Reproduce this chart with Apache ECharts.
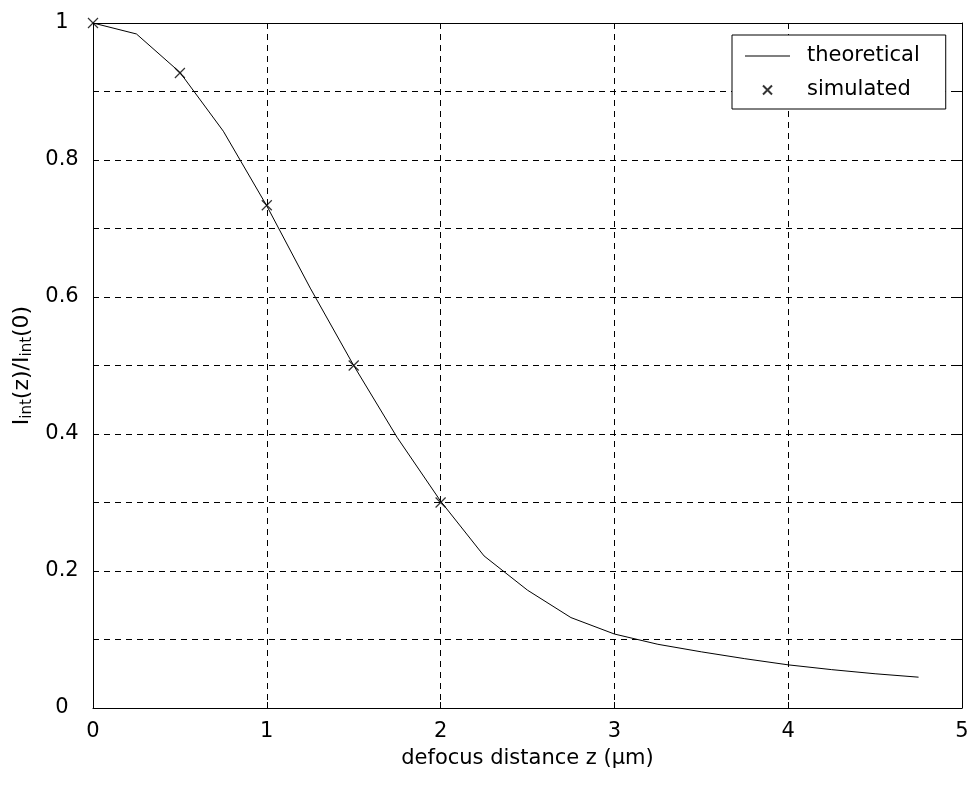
<!DOCTYPE html>
<html>
<head>
<meta charset="utf-8">
<script src="https://cdn.jsdelivr.net/npm/echarts@6/dist/echarts.min.js"></script>
<style>
  html, body { margin: 0; padding: 0; background: #fff; }
  #chart { width: 974px; height: 785px; }
</style>
</head>
<body>
<div id="chart"></div>
<script>
// theoretical curve
var zTheory = [0, 0.25, 0.5, 0.75, 1.0, 1.25, 1.5, 1.75, 2.0, 2.25, 2.5, 2.75, 3.0, 3.25, 3.5, 3.75, 4.0, 4.25, 4.5, 4.75];
var iTheory = [1.0, 0.984, 0.928, 0.842, 0.733, 0.613, 0.50, 0.395, 0.302, 0.222, 0.172, 0.132, 0.108, 0.093, 0.082, 0.072, 0.063, 0.056, 0.050, 0.045];
// simulated points
var zSim = [0, 0.5, 1.0, 1.5, 2.0];
var iSim = [1.0, 0.927, 0.734, 0.50, 0.30];

var FONT = 'DejaVu Sans';
var crossPath = 'path://M0,0L10,10M10,0L0,10';
var linePath = 'path://M0,0L45,0L45,1L0,1Z';

function pairs(xs, ys) {
  var out = [];
  for (var i = 0; i < xs.length; i++) out.push([xs[i], ys[i]]);
  return out;
}

var myChart = echarts.init(document.getElementById('chart'));

var tickStyle = { show: true, inside: true, length: 6, lineStyle: { color: '#000', width: 1 } };
var axisLineStyle = { show: true, onZero: false, lineStyle: { color: '#000', width: 1 } };
var gridDash = { show: true, lineStyle: { color: '#000', width: 1, type: [6, 5] } };

var option = {
  animation: false,
  backgroundColor: '#fff',
  grid: { left: 93, right: 12, top: 23, bottom: 77, containLabel: false, outerBoundsMode: 'none' },
  legend: {
    orient: 'vertical',
    left: 732,
    top: 35,
    padding: [10, 26, 8, 13],
    itemGap: 12,
    itemWidth: 45,
    itemHeight: 9,
    backgroundColor: '#fff',
    borderColor: '#000',
    borderWidth: 1,
    borderRadius: 0,
    textStyle: { fontFamily: FONT, fontSize: 21, color: '#000', padding: [0, 0, 0, 12], lineHeight: 22 },
    data: [
      { name: 'theoretical', icon: linePath, itemStyle: { color: '#000', borderWidth: 0 } },
      { name: 'simulated', icon: crossPath }
    ]
  },
  xAxis: [
    {
      type: 'value', min: 0, max: 5, interval: 1,
      name: 'defocus distance z (μm)', nameLocation: 'middle', nameGap: 40,
      nameTextStyle: { fontFamily: FONT, fontSize: 21, color: '#000' },
      axisLine: axisLineStyle, axisTick: tickStyle,
      axisLabel: { fontFamily: FONT, fontSize: 21, color: '#000', margin: 13 },
      splitLine: gridDash
    },
    {
      type: 'value', min: 0, max: 5, interval: 1, position: 'top',
      axisLine: axisLineStyle, axisTick: tickStyle,
      axisLabel: { show: false }, splitLine: { show: false }
    }
  ],
  yAxis: [
    {
      type: 'value', min: 0, max: 1, interval: 0.1,
      name: '{a|I}{s|int}{a|(z)/I}{s|int}{a|(0)}',
      nameLocation: 'middle', nameRotate: 90, nameGap: 50,
      nameTextStyle: {
        fontFamily: FONT, color: '#000',
        rich: {
          a: { fontFamily: FONT, fontSize: 22, color: '#000', lineHeight: 23, verticalAlign: 'top' },
          s: { fontFamily: FONT, fontSize: 15, color: '#000', lineHeight: 15, padding: [15, 0, 0, 0], verticalAlign: 'bottom' }
        }
      },
      axisLine: axisLineStyle, axisTick: tickStyle,
      axisLabel: {
        fontFamily: FONT, fontSize: 21, color: '#000', margin: 31, align: 'center',
        formatter: function (v) {
          var k = Math.round(v * 10);
          return k % 2 === 0 ? String(+(k / 10).toFixed(1)) : '';
        }
      },
      splitLine: gridDash
    },
    {
      type: 'value', min: 0, max: 1, interval: 0.1, position: 'right',
      axisLine: axisLineStyle, axisTick: tickStyle,
      axisLabel: { show: false }, splitLine: { show: false }
    }
  ],
  series: [
    {
      name: 'theoretical',
      type: 'line',
      data: pairs(zTheory, iTheory),
      symbol: 'none',
      lineStyle: { color: '#000', width: 1 },
      itemStyle: { color: '#000' },
      z: 3
    },
    {
      name: 'simulated',
      type: 'scatter',
      data: pairs(zSim, iSim),
      symbol: crossPath,
      symbolSize: 10,
      itemStyle: { color: 'transparent', borderColor: '#000', borderWidth: 1.2 },
      z: 4
    }
  ]
};

myChart.setOption(option);
</script>
</body>
</html>
